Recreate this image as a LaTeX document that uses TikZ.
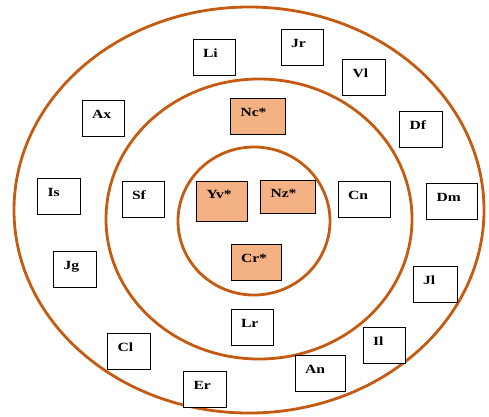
\documentclass[tikz,border=0pt]{standalone}
\usepackage{fontspec}
\setmainfont{Liberation Serif}[FakeStretch=1.25]
\usetikzlibrary{shapes}

\definecolor{ringc}{HTML}{C55A11}
\definecolor{corec}{HTML}{F4B183}

\begin{document}
\begin{tikzpicture}[x=1pt, y=-1pt,
font=\fontsize{12.5}{14}\selectfont\bfseries,
ring/.style={draw=ringc, line width=2.8pt},
box/.style={
    draw=black, line width=0.9pt, fill=white,
    inner xsep=10pt, inner ysep=0pt,
    text width=#1, align=left,
    text height=18pt, text depth=18pt
},
box/.default=22pt,
core/.style={box=#1, fill=corec},
core/.default=30pt,
]
\useasboundingbox (0,0) rectangle (489,416);

% rings
\draw[ring] (249,210) ellipse [x radius=235pt, y radius=203pt];
\draw[ring] (259,219) ellipse [x radius=153pt, y radius=140pt];
\draw[ring] (254,221) ellipse [x radius=76pt, y radius=74pt];

% inner circle
\node[core=31pt, text height=17pt, text depth=23pt] (Yv) at (222,201) {Yv*};
\node[core=35pt, text height=17pt, text depth=16pt] (Nz) at (288,197) {Nz*};
\node[core] (Cr) at (256,262) {Cr*};

% middle ring
\node[core=35pt] (Nc) at (258,116) {Nc*};
\node[box] (Sf) at (143,199) {Sf};
\node[box=32pt] (Cn) at (364,199) {Cn};
\node[box] (Lr) at (252,327) {Lr};

% outer ring
\node[box] (Li) at (214,57) {Li};
\node[box] (Jr) at (302,47) {Jr};
\node[box=23pt] (Vl) at (364,77) {Vl};
\node[box] (Ax) at (103,118) {Ax};
\node[box=23pt] (Df) at (421,129) {Df};
\node[box=23pt] (Is) at (59,196) {Is};
\node[box=31pt] (Dm) at (452,201) {Dm};
\node[box=23pt] (Jg) at (75,269) {Jg};
\node[box=24pt] (Jl) at (435,284) {Jl};
\node[box] (Il) at (384,345) {Il};
\node[box=23pt] (Cl) at (129,351) {Cl};
\node[box=30pt] (An) at (320,373) {An};
\node[box=23pt] (Er) at (205,389) {Er};

\end{tikzpicture}
\end{document}
